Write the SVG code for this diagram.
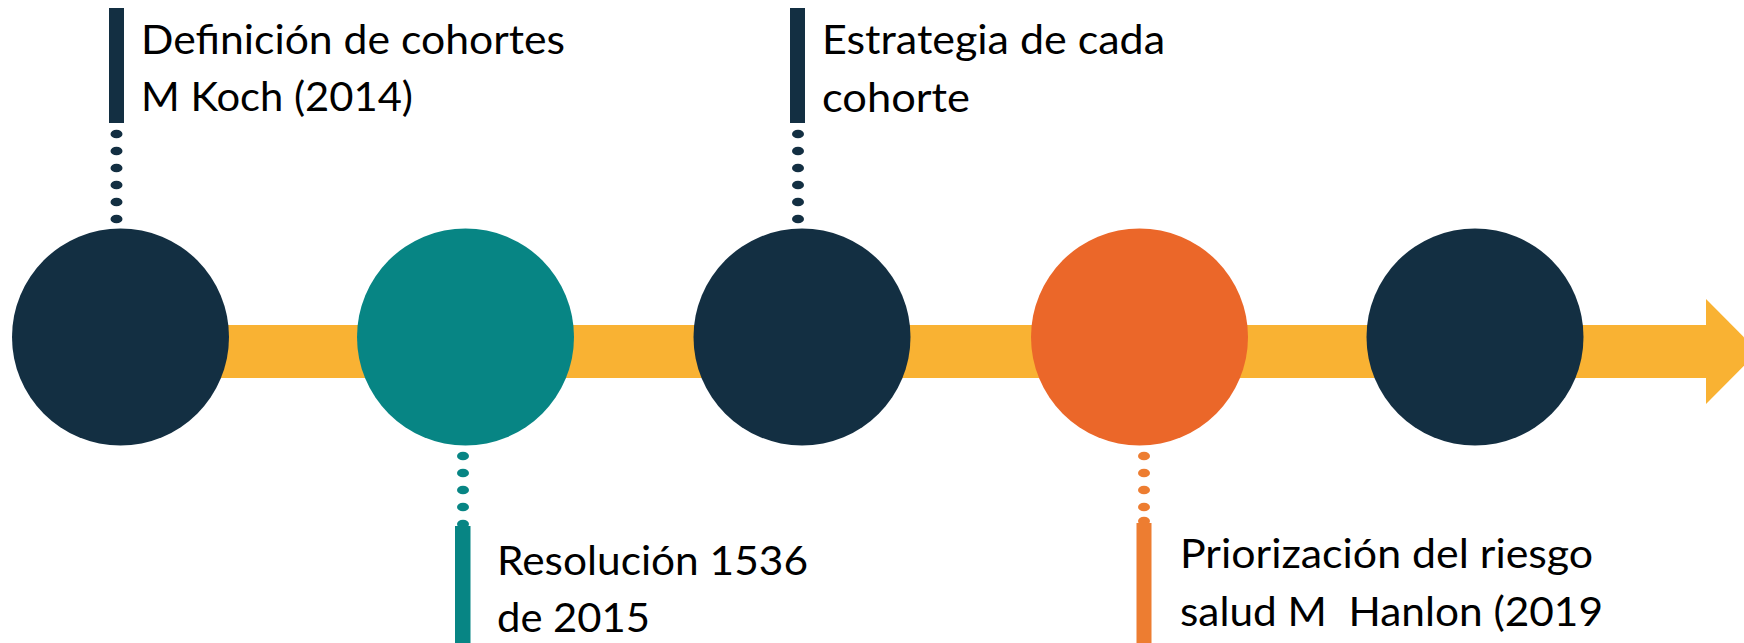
<svg xmlns="http://www.w3.org/2000/svg" width="1744" height="643" viewBox="0 0 1744 643">
  <style>
    .navy{fill:#132F42}
    .teal{fill:#078584}
    .orange{fill:#EB6729}
    .orangeL{fill:#ED7D31}
    .yellow{fill:#F9B233}
    .lbl{font-family:Lato,"Open Sans","Liberation Sans",sans-serif;font-size:40.5px;fill:#000}
  </style>
  <defs>
    <ellipse id="dot" cx="0" cy="0" rx="6" ry="4.3"/>
  </defs>
  <rect width="1744" height="643" fill="#fff"/>

  <g id="connectors">
    <g id="timeline-arrow" class="yellow">
      <rect x="120" y="325" width="1587" height="53"/>
      <polygon points="1706,299 1758,351.5 1706,404"/>
    </g>
    <g id="leader-1" class="navy">
      <rect x="109" y="8" width="15" height="115"/>
      <use href="#dot" x="116.5" y="134"/>
      <use href="#dot" x="116.5" y="151"/>
      <use href="#dot" x="116.5" y="168"/>
      <use href="#dot" x="116.5" y="185"/>
      <use href="#dot" x="116.5" y="202"/>
      <use href="#dot" x="116.5" y="219"/>
    </g>
    <g id="leader-2" class="teal">
      <use href="#dot" x="463" y="456"/>
      <use href="#dot" x="463" y="473"/>
      <use href="#dot" x="463" y="490"/>
      <use href="#dot" x="463" y="507"/>
      <use href="#dot" x="463" y="524"/>
      <rect x="455" y="526" width="15.5" height="117"/>
    </g>
    <g id="leader-3" class="navy">
      <rect x="790" y="8" width="15" height="115"/>
      <use href="#dot" x="798" y="134"/>
      <use href="#dot" x="798" y="151"/>
      <use href="#dot" x="798" y="168"/>
      <use href="#dot" x="798" y="185"/>
      <use href="#dot" x="798" y="202"/>
      <use href="#dot" x="798" y="219"/>
    </g>
    <g id="leader-4" class="orangeL">
      <use href="#dot" x="1144" y="456"/>
      <use href="#dot" x="1144" y="473"/>
      <use href="#dot" x="1144" y="490"/>
      <use href="#dot" x="1144" y="507"/>
      <use href="#dot" x="1144" y="521"/>
      <rect x="1136.5" y="523" width="15" height="120"/>
    </g>
  </g>

  <g id="node-1">
    <circle class="navy" cx="120.5" cy="337" r="108.5"/>
    <text class="lbl" x="141" y="54" textLength="424" lengthAdjust="spacingAndGlyphs">Definición de cohortes</text>
    <text class="lbl" x="141" y="111" textLength="272" lengthAdjust="spacingAndGlyphs">M Koch (2014)</text>
  </g>
  <g id="node-2">
    <circle class="teal" cx="465.5" cy="337" r="108.5"/>
    <text class="lbl" x="497" y="575" textLength="311" lengthAdjust="spacingAndGlyphs">Resolución 1536</text>
    <text class="lbl" x="497" y="632" textLength="153" lengthAdjust="spacingAndGlyphs">de 2015</text>
  </g>
  <g id="node-3">
    <circle class="navy" cx="802" cy="337" r="108.5"/>
    <text class="lbl" x="822" y="54" textLength="343" lengthAdjust="spacingAndGlyphs">Estrategia de cada</text>
    <text class="lbl" x="822" y="112" textLength="148" lengthAdjust="spacingAndGlyphs">cohorte</text>
  </g>
  <g id="node-4">
    <circle class="orange" cx="1139.5" cy="337" r="108.5"/>
    <text class="lbl" x="1180" y="568" textLength="413" lengthAdjust="spacingAndGlyphs">Priorización del riesgo</text>
    <text class="lbl" x="1180" y="626" textLength="423" lengthAdjust="spacingAndGlyphs" xml:space="preserve">salud M  Hanlon (2019</text>
  </g>
  <g id="node-5">
    <circle class="navy" cx="1475" cy="337" r="108.5"/>
  </g>
</svg>
